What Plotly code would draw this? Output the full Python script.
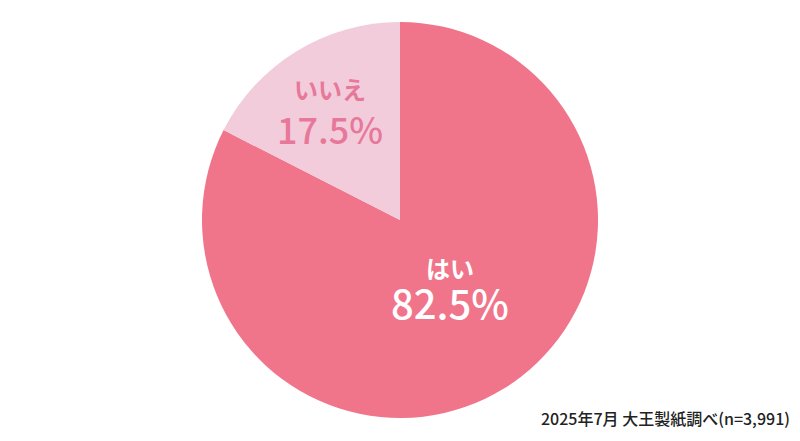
import plotly.graph_objects as go

labels = ["はい", "いいえ"]
values = [82.5, 17.5]
colors = ["#F0758A", "#F2CCDB"]
text_colors = ["#FFFFFF", "#E8789A"]
label_pos = [(450, 267, 302, 40), (330, 89, 128, 36)]  # px x, label y, pct y, pct size
note = "2025年7月 大王製紙調べ(n=3,991)"

W, H = 800, 441
FONT = "Noto Sans CJK JP"
fig = go.Figure(go.Pie(
    labels=labels, values=values, sort=False, direction="clockwise", rotation=0,
    marker=dict(colors=colors, line=dict(width=0)),
    textinfo="none", hoverinfo="label+percent", showlegend=False,
    domain=dict(x=[202 / W, 598 / W], y=[(H - 418) / H, (H - 22) / H]),
))

ann = []
for lab, v, c, (px, ly, py, ps) in zip(labels, values, text_colors, label_pos):
    ann.append(dict(x=px / W, y=1 - ly / H, xref="paper", yref="paper", text=lab,
                    xanchor="center", yanchor="middle", showarrow=False,
                    font=dict(size=24, color=c, family=FONT, weight=700)))
    ann.append(dict(x=px / W, y=1 - py / H, xref="paper", yref="paper", text=f"{v}%",
                    xanchor="center", yanchor="middle", showarrow=False,
                    font=dict(size=ps, color=c, family=FONT, weight=500)))
ann.append(dict(x=792 / W, y=1 - 418 / H, xref="paper", yref="paper", text=note,
                xanchor="right", yanchor="middle", showarrow=False,
                font=dict(size=16, color="#222222", family=FONT, weight=500)))

fig.update_layout(width=W, height=H, margin=dict(l=0, r=0, t=0, b=0),
                  paper_bgcolor="white", plot_bgcolor="white", annotations=ann)
fig.write_html("out.html", config={"displayModeBar": False},
               post_script="document.body.style.margin='0';")
